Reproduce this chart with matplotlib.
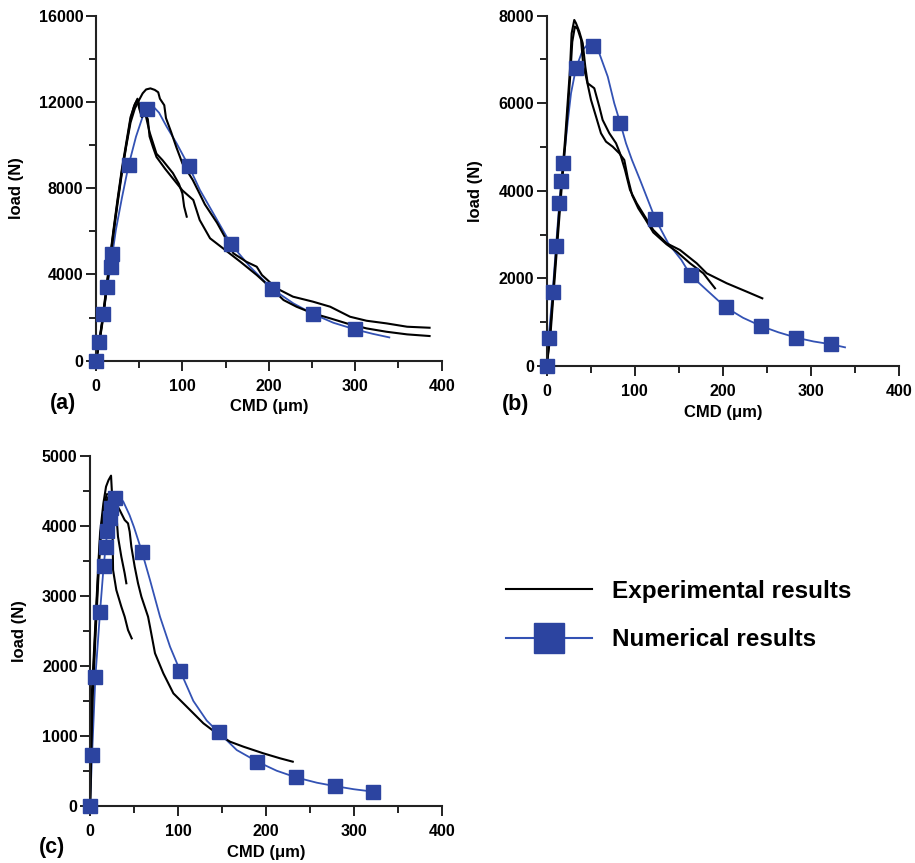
import matplotlib
matplotlib.use("Agg")
import matplotlib.pyplot as plt
from matplotlib.lines import Line2D
from matplotlib.ticker import MultipleLocator

plt.rcParams['font.family'] = ['Liberation Sans', 'DejaVu Sans']
plt.rcParams['font.weight'] = 'bold'

# ---------------- panel (a) ----------------
num_a_x = [0, 3.5, 8.5, 13, 17, 19, 37.8, 59.4, 107.6, 155.8, 203.7, 251.5, 299.7]
num_a_y = [0, 881, 2164, 3432, 4360, 4947, 9074, 11671, 9012, 5426, 3339, 2164, 1453]
curve_a_x = [0, 3.5, 8.5, 13, 17, 19, 23, 30, 37.8, 46.3, 54, 59.4, 66, 73, 81.8, 93.3,
             107.6, 120.3, 135.8, 155.8, 178.2, 203.7, 228.4, 251.5, 274.6, 299.7, 320, 339.4]
curve_a_y = [0, 881, 2164, 3432, 4360, 4947, 6062, 7550, 9074, 10390, 11317, 11671, 11800,
             11500, 10852, 10080, 9012, 7915, 6833, 5426, 4360, 3339, 2659, 2164, 1762,
             1453, 1250, 1082]

exp_a1_x = [0, 4, 8, 12, 16, 20, 25, 30, 35, 40, 44, 48, 50, 52, 55, 58, 62, 66, 70, 77,
            89, 96, 100, 102, 105]
exp_a1_y = [0, 900, 2000, 3300, 4600, 5900, 7400, 8800, 10000, 11200, 11800, 12150, 11900,
            11500, 11600, 11300, 10600, 10100, 9600, 9300, 8700, 8200, 7750, 7150, 6680]
exp_a2_x = [0, 4, 8, 12, 16, 20, 25, 30, 35, 40, 45, 50, 54, 58, 63, 68, 72, 74, 79, 81,
            87, 93, 100, 112, 118, 126, 140, 149, 159, 174, 186, 192, 209, 228, 251, 271,
            294, 313, 336, 360, 386]
exp_a2_y = [0, 850, 1900, 3200, 4500, 5800, 7300, 8700, 9950, 11050, 11700, 12100, 12400,
            12580, 12630, 12560, 12450, 12150, 11850, 11250, 10600, 9900, 9150, 8380, 7900,
            7250, 6400, 5750, 4980, 4590, 4360, 3975, 3357, 2970, 2740, 2505, 2040, 1855,
            1733, 1577, 1530]
exp_a3_x = [0, 4, 8, 12, 16, 20, 25, 30, 35, 40, 45, 48, 50, 53, 57, 60, 62, 66, 70, 80,
            90, 100, 112.6, 120, 132, 147, 167, 186, 203, 217, 232, 251, 271, 290, 313,
            336, 360, 386]
exp_a3_y = [0, 950, 2100, 3400, 4700, 6000, 7500, 8900, 10100, 11300, 11900, 12100, 11700,
            11300, 11450, 11200, 10400, 9900, 9450, 8900, 8400, 7900, 7454, 6526, 5677,
            5213, 4592, 3975, 3357, 2815, 2505, 2198, 1966, 1733, 1500, 1345, 1222, 1146]

# ---------------- panel (b) ----------------
num_b_x = [0, 2.2, 6.8, 10.6, 14.3, 16.6, 18.9, 33.2, 52.2, 83.6, 123.3, 163.5, 203.2,
           243.3, 283.4, 323.2]
num_b_y = [0, 647, 1697, 2740, 3715, 4232, 4628, 6798, 7315, 5542, 3357, 2070, 1340, 913,
           647, 495]
curve_b_x = [0, 2.2, 6.8, 10.6, 14.3, 16.6, 18.9, 24, 27.6, 33.2, 40.9, 46, 52.2, 59.7,
             69.3, 76.7, 83.6, 90, 96.8, 106, 123.3, 138, 152.9, 163.5, 181.6, 203.2, 223,
             243.3, 263, 283.4, 303, 323.2, 338.7]
curve_b_y = [0, 647, 1697, 2740, 3715, 4232, 4628, 5600, 6227, 6798, 7216, 7330, 7350,
             7141, 6607, 5999, 5542, 5086, 4704, 4248, 3357, 2801, 2421, 2070, 1735, 1340,
             1100, 913, 770, 647, 560, 495, 426]

exp_b1_x = [0, 3.8, 9.4, 15.1, 20.8, 26.4, 28.3, 31.3, 33.3, 37, 40.9, 43.8, 46.5, 54,
            59.7, 63.5, 71.1, 78.7, 83.2, 88.9, 94.6, 102.2, 111.6, 121, 136.2, 151.3,
            170.3, 181.6, 204.4, 227, 244.8]
exp_b1_y = [0, 746, 2268, 3791, 5161, 6760, 7597, 7901, 7825, 7635, 7369, 6836, 6456, 6342,
            5922, 5618, 5314, 5086, 4857, 4476, 4019, 3715, 3410, 3106, 2801, 2649, 2345,
            2117, 1889, 1698, 1545]
exp_b2_x = [0, 4.2, 9.8, 15.5, 21.2, 26.8, 29, 32, 35, 39, 41.6, 44.6, 50.3, 56, 61.6,
            67.3, 74.9, 82.4, 88.1, 92, 97, 104, 112, 121, 136, 147.6, 162.7, 177.8, 191.1]
exp_b2_y = [0, 700, 2200, 3700, 5100, 6650, 7400, 7750, 7700, 7450, 6836, 6608, 6075, 5694,
            5314, 5123, 5008, 4857, 4704, 4300, 3900, 3600, 3350, 3050, 2780, 2611, 2345,
            2117, 1774]

# ---------------- panel (c) ----------------
num_c_x = [0, 2.3, 6.1, 11.4, 15.5, 17.8, 19.7, 22.4, 24.3, 28.1, 59.1, 102.4, 146.3,
           190.3, 234.3, 278.3, 322.2]
num_c_y = [0, 728, 1846, 2774, 3426, 3702, 3930, 4106, 4248, 4400, 3625, 1932, 1051, 633,
           409, 285, 205]
curve_c_x = [0, 2.3, 6.1, 11.4, 15.5, 17.8, 19.7, 22.4, 24.3, 28.1, 32, 38, 45, 50, 59.1,
             68.2, 79.6, 91, 102.4, 117.5, 132.7, 146.3, 166.9, 190.3, 212.3, 234.3, 258,
             278.3, 300, 322.2]
curve_c_y = [0, 728, 1846, 2774, 3426, 3702, 3930, 4106, 4248, 4400, 4440, 4340, 4150, 3980,
             3625, 3226, 2702, 2274, 1932, 1500, 1220, 1051, 799, 633, 504, 409, 333, 285,
             240, 205]

exp_c1_x = [0, 0.5, 1.9, 5.7, 9.5, 11.4, 15.2, 18.2, 21, 23.9, 24.8, 25, 26.2, 29.9, 35.6,
            39.4, 43.2, 47.4]
exp_c1_y = [0, 700, 1560, 2512, 3464, 3892, 4320, 4558, 4650, 4715, 4500, 4415, 3368, 3083,
            2845, 2702, 2512, 2393]
exp_c2_x = [0, 1, 2.5, 6, 9.8, 12, 16, 19, 22, 25, 28, 29.9, 31.8, 35.6, 39.4, 41.3]
exp_c2_y = [0, 700, 1560, 2500, 3450, 3900, 4300, 4450, 4450, 4400, 4300, 4177, 3844, 3558,
            3321, 3179]
exp_c3_x = [0, 1.2, 3, 6.5, 10.2, 12.5, 16.5, 20, 24, 28, 33.7, 39.4, 43.2, 45.1, 47, 50.8,
            54.6, 58.4, 62.2, 66, 68.2, 73.9, 83.4, 94.8, 110, 129, 144.1, 159.3, 174.5,
            197.2, 216.2, 230.6]
exp_c3_y = [0, 700, 1560, 2500, 3450, 3900, 4250, 4400, 4450, 4350, 4225, 4082, 4034, 3915,
            3701, 3416, 3178, 2988, 2845, 2702, 2560, 2180, 1893, 1608, 1418, 1180, 1037,
            918, 847, 752, 681, 633]

blue = '#2c44a0'
line_blue = '#3352b4'

fig = plt.figure(figsize=(9.15, 8.63), dpi=100)


def panel(rect, curve, nums, exps, ymax, ymaj, letter, letter_pos):
    ax = fig.add_axes(rect)
    ax.plot(curve[0], curve[1], color=line_blue, lw=1.3, zorder=2)
    for ex, ey in exps:
        ax.plot(ex, ey, color='black', lw=1.5, zorder=2.5)
    ax.plot(nums[0], nums[1], ls='none', marker='s', ms=9.5, color=blue,
            mec=blue, zorder=3, clip_on=False)
    ax.set_xlim(0, 400)
    ax.set_ylim(0, ymax)
    ax.xaxis.set_major_locator(MultipleLocator(100))
    ax.xaxis.set_minor_locator(MultipleLocator(50))
    ax.yaxis.set_major_locator(MultipleLocator(ymaj))
    ax.yaxis.set_minor_locator(MultipleLocator(ymaj / 2))
    for s in ['top', 'right']:
        ax.spines[s].set_visible(False)
    for s in ['left', 'bottom']:
        ax.spines[s].set_linewidth(1.5)
        ax.spines[s].set_color('#222222')
    ax.tick_params(which='major', direction='out', length=7, width=1.4,
                   labelsize=11.5, pad=2, color='#222222')
    ax.tick_params(axis='x', which='major', pad=6)
    ax.tick_params(which='minor', direction='out', length=5, width=1.4, color='#222222')
    for lab in ax.get_xticklabels() + ax.get_yticklabels():
        lab.set_fontweight('bold')
    ax.set_xlabel('CMD (μm)', fontsize=12, fontweight='bold', labelpad=4)
    ax.set_ylabel('load (N)', fontsize=12, fontweight='bold', labelpad=11)
    fig.text(letter_pos[0], letter_pos[1], letter, fontsize=15.5, fontweight='bold',
             ha='left', va='center')
    return ax


panel([0.1049, 0.582, 0.3778, 0.3998], (curve_a_x, curve_a_y), (num_a_x, num_a_y),
      [(exp_a1_x, exp_a1_y), (exp_a2_x, exp_a2_y), (exp_a3_x, exp_a3_y)],
      16000, 4000, '(a)', (0.054, 0.532))
panel([0.5975, 0.5759, 0.385, 0.406], (curve_b_x, curve_b_y), (num_b_x, num_b_y),
      [(exp_b1_x, exp_b1_y), (exp_b2_x, exp_b2_y)],
      8000, 2000, '(b)', (0.549, 0.531))
panel([0.0984, 0.066, 0.3843, 0.406], (curve_c_x, curve_c_y), (num_c_x, num_c_y),
      [(exp_c1_x, exp_c1_y), (exp_c2_x, exp_c2_y), (exp_c3_x, exp_c3_y)],
      5000, 1000, '(c)', (0.043, 0.0174))

handles = [Line2D([], [], color='black', lw=1.5),
           Line2D([], [], color=line_blue, lw=1.5, marker='s', ms=21, mfc=blue, mec=blue)]
fig.legend(handles, ['Experimental results', 'Numerical results'],
           loc='upper left', bbox_to_anchor=(0.553, 0.3285), frameon=False,
           prop={'family': ['Liberation Sans', 'DejaVu Sans'], 'weight': 'bold', 'size': 17.5},
           handlelength=3.55, handletextpad=0.8, labelspacing=1.05, borderpad=0,
           borderaxespad=0)

fig.savefig('out.png', dpi=100)
